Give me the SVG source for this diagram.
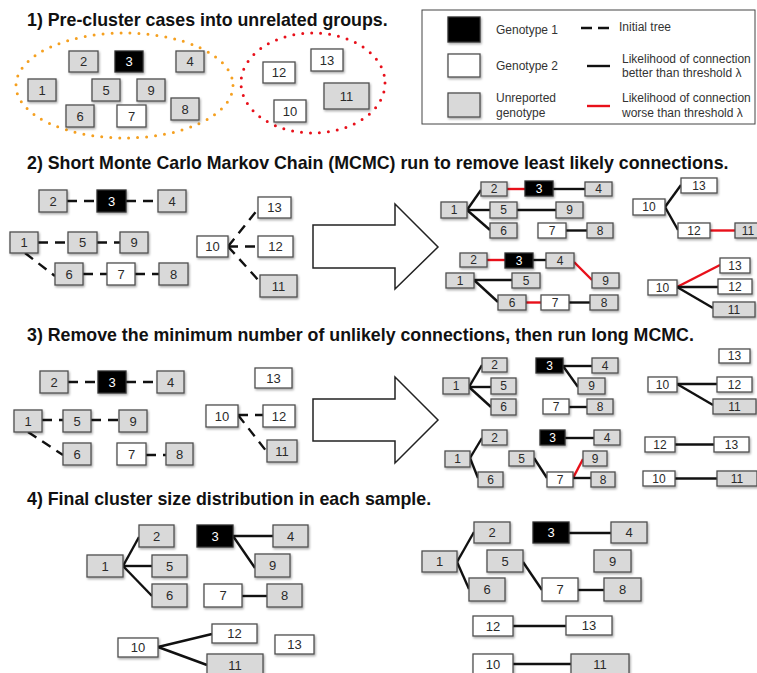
<svg xmlns="http://www.w3.org/2000/svg" width="757" height="673" viewBox="0 0 757 673">
<defs>
<filter id="sh" x="-20%" y="-20%" width="150%" height="160%">
<feDropShadow dx="1" dy="1.5" stdDeviation="1" flood-color="#000" flood-opacity="0.35"/>
</filter>
<style>
.g{fill:#d9d9d9;stroke:#505050;stroke-width:1.3;filter:url(#sh)}
.w{fill:#fff;stroke:#505050;stroke-width:1.3;filter:url(#sh)}
.b{fill:#000;stroke:#303030;stroke-width:1.3;filter:url(#sh)}
.t{font-family:"Liberation Sans",Arial,sans-serif;font-size:13px;fill:#2a2a2a;text-anchor:middle}
.s{font-size:12px}
.tw{fill:#fff}
.h{font-family:"Liberation Sans",Arial,sans-serif;font-size:17.8px;font-weight:bold;fill:#111}
.lg{font-family:"Liberation Sans",Arial,sans-serif;font-size:12px;fill:#333}
.e{stroke:#111;stroke-width:2.4;fill:none}
.r{stroke:#e8101a;stroke-width:2.4;fill:none}
.d{stroke:#111;stroke-width:2.4;fill:none;stroke-dasharray:10 7}
.ar{fill:#fff;stroke:#222;stroke-width:1.5}
</style>
</defs>
<rect width="757" height="673" fill="#fff"/>

<g id="titles">
<text class="h" x="27" y="26">1) Pre-cluster cases into unrelated groups.</text>
<text class="h" x="27" y="169">2) Short Monte Carlo Markov Chain (MCMC) run to remove least likely connections.</text>
<text class="h" x="27" y="341">3) Remove the minimum number of unlikely connections, then run long MCMC.</text>
<text class="h" x="27" y="505">4) Final cluster size distribution in each sample.</text>
</g>

<g id="legend">
<rect x="422" y="10" width="333" height="114" fill="#fff" stroke="#444" stroke-width="1"/>
<rect class="b" x="448" y="17" width="32" height="25"/>
<rect class="w" x="448" y="54" width="32" height="23"/>
<rect class="g" x="448" y="93" width="32" height="24"/>
<text class="lg" x="496" y="34">Genotype 1</text>
<text class="lg" x="496" y="70">Genotype 2</text>
<text class="lg" x="496" y="102">Unreported</text>
<text class="lg" x="496" y="117">genotype</text>
<line x1="581" y1="28" x2="610" y2="28" class="e" style="stroke-dasharray:11 6"/>
<text class="lg" x="619" y="31">Initial tree</text>
<line x1="587" y1="66" x2="610" y2="66" class="e"/>
<text class="lg" x="622" y="63">Likelihood of connection</text>
<text class="lg" x="622" y="77">better than threshold λ</text>
<line x1="587" y1="106" x2="610" y2="106" class="r"/>
<text class="lg" x="622" y="102">Likelihood of connection</text>
<text class="lg" x="622" y="117">worse than threshold λ</text>
</g>

<g id="groups">
<ellipse cx="124.5" cy="85.5" rx="108.5" ry="52.5" fill="none" stroke="#f5a020" stroke-width="3" stroke-linecap="round" stroke-dasharray="0 9"/>
<ellipse cx="313" cy="83" rx="72" ry="50" fill="none" stroke="#e8101a" stroke-width="3" stroke-linecap="round" stroke-dasharray="0 9"/>
</g>

<g id="arrows">
<polygon class="ar" points="313,225 395,225 395,204 438,247 395,289 395,268 313,268"/>
<polygon class="ar" points="313,399 395,399 395,377 438,420 395,463 395,441 313,441"/>
</g>

<g id="connectors">
<line class="d" x1="67" y1="201" x2="97" y2="201"/>
<line class="d" x1="126" y1="201" x2="158" y2="201"/>
<line class="d" x1="38" y1="242.5" x2="68" y2="242.5"/>
<line class="d" x1="97" y1="242.5" x2="120" y2="242.5"/>
<line class="d" x1="25" y1="253" x2="55" y2="276"/>
<line class="d" x1="83" y1="274" x2="107" y2="274"/>
<line class="d" x1="135" y1="274" x2="159" y2="274"/>
<line class="d" x1="228" y1="246.5" x2="258" y2="209"/>
<line class="d" x1="228" y1="246.5" x2="258" y2="246.5"/>
<line class="d" x1="228" y1="246.5" x2="260" y2="282"/>
<line class="r" x1="507" y1="189" x2="525" y2="189"/>
<line class="e" x1="553" y1="189" x2="585" y2="189"/>
<line class="e" x1="467" y1="210" x2="481" y2="190"/>
<line class="e" x1="467" y1="210" x2="490" y2="210"/>
<line class="e" x1="467" y1="210" x2="490" y2="230"/>
<line class="e" x1="517" y1="210" x2="556" y2="210"/>
<line class="e" x1="566" y1="230.5" x2="587" y2="230.5"/>
<line class="e" x1="665" y1="207" x2="681" y2="185"/>
<line class="e" x1="665" y1="207" x2="678" y2="230"/>
<line class="r" x1="710" y1="230.5" x2="735" y2="230.5"/>
<line class="r" x1="487" y1="260" x2="505" y2="260"/>
<line class="e" x1="533" y1="260" x2="546" y2="260"/>
<line class="r" x1="574" y1="262" x2="592" y2="280"/>
<line class="e" x1="474" y1="280" x2="512" y2="280"/>
<line class="e" x1="474" y1="280" x2="498" y2="302"/>
<line class="r" x1="526" y1="302.5" x2="541" y2="302.5"/>
<line class="e" x1="569" y1="302.5" x2="590" y2="302.5"/>
<line class="r" x1="677" y1="287" x2="720" y2="265"/>
<line class="e" x1="677" y1="287" x2="718" y2="287"/>
<line class="e" x1="677" y1="287" x2="713" y2="308"/>
<line class="d" x1="68" y1="382" x2="98" y2="382"/>
<line class="d" x1="126" y1="382" x2="157" y2="382"/>
<line class="d" x1="42" y1="420" x2="63" y2="420"/>
<line class="d" x1="91" y1="420" x2="119" y2="420"/>
<line class="d" x1="28" y1="432" x2="63" y2="455"/>
<line class="d" x1="146" y1="455" x2="166" y2="455"/>
<line class="d" x1="238" y1="415" x2="263" y2="415"/>
<line class="d" x1="238" y1="415" x2="267" y2="452"/>
<line class="e" x1="469" y1="387" x2="482" y2="365"/>
<line class="e" x1="469" y1="387" x2="491" y2="387"/>
<line class="e" x1="469" y1="387" x2="491" y2="407"/>
<line class="e" x1="563" y1="366" x2="592" y2="366"/>
<line class="e" x1="563" y1="366" x2="578" y2="387"/>
<line class="e" x1="569" y1="407" x2="587" y2="407"/>
<line class="e" x1="677" y1="384" x2="717" y2="384"/>
<line class="e" x1="677" y1="384" x2="713" y2="405"/>
<line class="e" x1="470" y1="458" x2="482" y2="438"/>
<line class="e" x1="470" y1="458" x2="478" y2="478"/>
<line class="e" x1="565" y1="438" x2="594" y2="438"/>
<line class="e" x1="534" y1="458" x2="547" y2="478"/>
<line class="r" x1="573" y1="478" x2="583" y2="459"/>
<line class="e" x1="573" y1="478" x2="591" y2="478"/>
<line class="e" x1="675" y1="444.5" x2="714" y2="444.5"/>
<line class="e" x1="675" y1="478.5" x2="717" y2="478.5"/>
<line class="e" x1="123" y1="566" x2="139" y2="537"/>
<line class="e" x1="123" y1="566" x2="152" y2="566"/>
<line class="e" x1="123" y1="566" x2="152" y2="596"/>
<line class="e" x1="233" y1="536" x2="273" y2="536"/>
<line class="e" x1="233" y1="536" x2="255" y2="568"/>
<line class="e" x1="242" y1="596" x2="267" y2="596"/>
<line class="e" x1="158" y1="647" x2="212" y2="634"/>
<line class="e" x1="158" y1="647" x2="207" y2="665"/>
<line class="e" x1="457" y1="562" x2="474" y2="532"/>
<line class="e" x1="457" y1="562" x2="469" y2="589"/>
<line class="e" x1="569" y1="533" x2="611" y2="533"/>
<line class="e" x1="523" y1="562" x2="542" y2="590"/>
<line class="e" x1="578" y1="590" x2="604" y2="590"/>
<line class="e" x1="513" y1="626" x2="566" y2="626"/>
<line class="e" x1="513" y1="664" x2="571" y2="664"/>
</g>

<g id="s1">
<g id="s1-2"><rect class="g" x="69" y="51" width="29" height="21"/><text class="t" x="83.5" y="66">2</text></g>
<g id="s1-3"><rect class="b" x="115" y="51" width="28" height="21"/><text class="t tw" x="129" y="66">3</text></g>
<g id="s1-4"><rect class="g" x="176" y="51" width="28" height="21"/><text class="t" x="190" y="66">4</text></g>
<g id="s1-1"><rect class="g" x="28" y="79" width="28" height="22"/><text class="t" x="42" y="94.5">1</text></g>
<g id="s1-5"><rect class="g" x="92" y="79" width="28" height="22"/><text class="t" x="106" y="94.5">5</text></g>
<g id="s1-9"><rect class="g" x="137" y="79" width="28" height="22"/><text class="t" x="151" y="94.5">9</text></g>
<g id="s1-8"><rect class="g" x="171" y="98" width="28" height="22"/><text class="t" x="185" y="113.5">8</text></g>
<g id="s1-6"><rect class="g" x="66" y="105" width="28" height="22"/><text class="t" x="80" y="120.5">6</text></g>
<g id="s1-7"><rect class="w" x="117" y="105" width="29" height="22"/><text class="t" x="131.5" y="120.5">7</text></g>
<g id="s1-12"><rect class="w" x="263" y="62" width="32" height="21"/><text class="t" x="279" y="77">12</text></g>
<g id="s1-13"><rect class="w" x="311" y="49" width="32" height="22"/><text class="t" x="327" y="64.5">13</text></g>
<g id="s1-11"><rect class="g" x="324" y="83" width="45" height="26"/><text class="t" x="346.5" y="100.5">11</text></g>
<g id="s1-10"><rect class="w" x="274" y="100" width="32" height="22"/><text class="t" x="290" y="115.5">10</text></g>
</g>

<g id="s2a">
<g id="s2a-2"><rect class="g" x="39" y="190" width="28" height="22"/><text class="t" x="53" y="205.5">2</text></g>
<g id="s2a-3"><rect class="b" x="97" y="190" width="29" height="22"/><text class="t tw" x="111.5" y="205.5">3</text></g>
<g id="s2a-4"><rect class="g" x="158" y="190" width="28" height="22"/><text class="t" x="172" y="205.5">4</text></g>
<g id="s2a-1"><rect class="g" x="10" y="232" width="28" height="21"/><text class="t" x="24" y="247">1</text></g>
<g id="s2a-5"><rect class="g" x="68" y="232" width="29" height="21"/><text class="t" x="82.5" y="247">5</text></g>
<g id="s2a-9"><rect class="g" x="120" y="232" width="28" height="21"/><text class="t" x="134" y="247">9</text></g>
<g id="s2a-6"><rect class="g" x="55" y="263" width="28" height="22"/><text class="t" x="69" y="278.5">6</text></g>
<g id="s2a-7"><rect class="w" x="107" y="263" width="28" height="22"/><text class="t" x="121" y="278.5">7</text></g>
<g id="s2a-8"><rect class="g" x="159" y="263" width="29" height="22"/><text class="t" x="173.5" y="278.5">8</text></g>
<g id="s2a-10"><rect class="w" x="197" y="236" width="31" height="21"/><text class="t" x="212.5" y="251">10</text></g>
<g id="s2a-13"><rect class="w" x="258" y="197" width="33" height="21"/><text class="t" x="274.5" y="212">13</text></g>
<g id="s2a-12"><rect class="w" x="258" y="236" width="35" height="21"/><text class="t" x="275.5" y="251">12</text></g>
<g id="s2a-11"><rect class="g" x="260" y="275" width="37" height="22"/><text class="t" x="278.5" y="290.5">11</text></g>
</g>

<g id="s2b">
<g id="s2b-2"><rect class="g" x="481" y="182" width="26" height="14"/><text class="t s" x="494" y="193.2">2</text></g>
<g id="s2b-3"><rect class="b" x="525" y="181" width="28" height="15"/><text class="t s tw" x="539" y="192.7">3</text></g>
<g id="s2b-4"><rect class="g" x="585" y="182" width="27" height="14"/><text class="t s" x="598.5" y="193.2">4</text></g>
<g id="s2b-1"><rect class="g" x="441" y="202" width="26" height="16"/><text class="t s" x="454" y="214.2">1</text></g>
<g id="s2b-5"><rect class="g" x="490" y="202" width="27" height="16"/><text class="t s" x="503.5" y="214.2">5</text></g>
<g id="s2b-9"><rect class="g" x="556" y="202" width="27" height="16"/><text class="t s" x="569.5" y="214.2">9</text></g>
<g id="s2b-6"><rect class="g" x="490" y="223" width="27" height="15"/><text class="t s" x="503.5" y="234.7">6</text></g>
<g id="s2b-7"><rect class="w" x="538" y="223" width="28" height="15"/><text class="t s" x="552" y="234.7">7</text></g>
<g id="s2b-8"><rect class="g" x="587" y="223" width="26" height="15"/><text class="t s" x="600" y="234.7">8</text></g>
<g id="s2b-10"><rect class="w" x="633" y="199" width="32" height="16"/><text class="t s" x="649" y="211.2">10</text></g>
<g id="s2b-13"><rect class="w" x="681" y="178" width="36" height="15"/><text class="t s" x="699" y="189.7">13</text></g>
<g id="s2b-12"><rect class="w" x="678" y="223" width="32" height="15"/><text class="t s" x="694" y="234.7">12</text></g>
<g id="s2b-11"><rect class="g" x="735" y="223" width="36" height="15"/><text class="t s" x="748" y="234.7">11</text></g>
</g>

<g id="s2c">
<g id="s2c-2"><rect class="g" x="460" y="253" width="27" height="14"/><text class="t s" x="473.5" y="264.2">2</text></g>
<g id="s2c-3"><rect class="b" x="505" y="253" width="28" height="15"/><text class="t s tw" x="519" y="264.7">3</text></g>
<g id="s2c-4"><rect class="g" x="546" y="253" width="28" height="15"/><text class="t s" x="560" y="264.7">4</text></g>
<g id="s2c-9"><rect class="g" x="592" y="273" width="27" height="15"/><text class="t s" x="605.5" y="284.7">9</text></g>
<g id="s2c-1"><rect class="g" x="446" y="273" width="28" height="15"/><text class="t s" x="460" y="284.7">1</text></g>
<g id="s2c-5"><rect class="g" x="512" y="273" width="28" height="15"/><text class="t s" x="526" y="284.7">5</text></g>
<g id="s2c-6"><rect class="g" x="498" y="295" width="28" height="15"/><text class="t s" x="512" y="306.7">6</text></g>
<g id="s2c-7"><rect class="w" x="541" y="295" width="28" height="15"/><text class="t s" x="555" y="306.7">7</text></g>
<g id="s2c-8"><rect class="g" x="590" y="295" width="28" height="15"/><text class="t s" x="604" y="306.7">8</text></g>
<g id="s2c-10"><rect class="w" x="648" y="280" width="29" height="15"/><text class="t s" x="662.5" y="291.7">10</text></g>
<g id="s2c-13"><rect class="w" x="720" y="258" width="30" height="15"/><text class="t s" x="735" y="269.7">13</text></g>
<g id="s2c-12"><rect class="w" x="718" y="279" width="34" height="15"/><text class="t s" x="735" y="290.7">12</text></g>
<g id="s2c-11"><rect class="g" x="713" y="302" width="42" height="15"/><text class="t s" x="734" y="313.7">11</text></g>
</g>

<g id="s3a">
<g id="s3a-2"><rect class="g" x="40" y="371" width="28" height="22"/><text class="t" x="54" y="386.5">2</text></g>
<g id="s3a-3"><rect class="b" x="98" y="371" width="28" height="22"/><text class="t tw" x="112" y="386.5">3</text></g>
<g id="s3a-4"><rect class="g" x="157" y="371" width="27" height="22"/><text class="t" x="170.5" y="386.5">4</text></g>
<g id="s3a-1"><rect class="g" x="14" y="410" width="28" height="22"/><text class="t" x="28" y="425.5">1</text></g>
<g id="s3a-5"><rect class="g" x="63" y="410" width="28" height="22"/><text class="t" x="77" y="425.5">5</text></g>
<g id="s3a-9"><rect class="g" x="119" y="410" width="28" height="22"/><text class="t" x="133" y="425.5">9</text></g>
<g id="s3a-6"><rect class="g" x="63" y="443" width="28" height="22"/><text class="t" x="77" y="458.5">6</text></g>
<g id="s3a-7"><rect class="w" x="117" y="443" width="29" height="22"/><text class="t" x="131.5" y="458.5">7</text></g>
<g id="s3a-8"><rect class="g" x="166" y="443" width="27" height="22"/><text class="t" x="179.5" y="458.5">8</text></g>
<g id="s3a-13"><rect class="w" x="255" y="368" width="37" height="20"/><text class="t" x="273.5" y="382.5">13</text></g>
<g id="s3a-10"><rect class="w" x="206" y="405" width="32" height="22"/><text class="t" x="222" y="420.5">10</text></g>
<g id="s3a-12"><rect class="w" x="263" y="405" width="32" height="22"/><text class="t" x="279" y="420.5">12</text></g>
<g id="s3a-11"><rect class="g" x="267" y="440" width="30" height="22"/><text class="t" x="282" y="455.5">11</text></g>
</g>

<g id="s3b">
<g id="s3b-2"><rect class="g" x="482" y="358" width="25" height="14"/><text class="t s" x="494.5" y="369.2">2</text></g>
<g id="s3b-1"><rect class="g" x="443" y="378" width="26" height="16"/><text class="t s" x="456" y="390.2">1</text></g>
<g id="s3b-5"><rect class="g" x="491" y="378" width="25" height="16"/><text class="t s" x="503.5" y="390.2">5</text></g>
<g id="s3b-6"><rect class="g" x="491" y="399" width="25" height="16"/><text class="t s" x="503.5" y="411.2">6</text></g>
<g id="s3b-3"><rect class="b" x="536" y="358" width="27" height="15"/><text class="t s tw" x="549.5" y="369.7">3</text></g>
<g id="s3b-4"><rect class="g" x="592" y="358" width="26" height="15"/><text class="t s" x="605" y="369.7">4</text></g>
<g id="s3b-9"><rect class="g" x="578" y="378" width="27" height="16"/><text class="t s" x="591.5" y="390.2">9</text></g>
<g id="s3b-7"><rect class="w" x="543" y="399" width="26" height="15"/><text class="t s" x="556" y="410.7">7</text></g>
<g id="s3b-8"><rect class="g" x="587" y="399" width="26" height="15"/><text class="t s" x="600" y="410.7">8</text></g>
<g id="s3b-13"><rect class="w" x="719" y="349" width="31" height="14"/><text class="t s" x="734.5" y="360.2">13</text></g>
<g id="s3b-10"><rect class="w" x="648" y="377" width="29" height="15"/><text class="t s" x="662.5" y="388.7">10</text></g>
<g id="s3b-12"><rect class="w" x="717" y="377" width="35" height="15"/><text class="t s" x="734.5" y="388.7">12</text></g>
<g id="s3b-11"><rect class="g" x="713" y="399" width="43" height="15"/><text class="t s" x="734.5" y="410.7">11</text></g>
</g>

<g id="s3c">
<g id="s3c-2"><rect class="g" x="482" y="430" width="25" height="15"/><text class="t s" x="494.5" y="441.7">2</text></g>
<g id="s3c-1"><rect class="g" x="445" y="451" width="25" height="16"/><text class="t s" x="457.5" y="463.2">1</text></g>
<g id="s3c-6"><rect class="g" x="478" y="472" width="25" height="15"/><text class="t s" x="490.5" y="483.7">6</text></g>
<g id="s3c-3"><rect class="b" x="540" y="430" width="25" height="15"/><text class="t s tw" x="552.5" y="441.7">3</text></g>
<g id="s3c-4"><rect class="g" x="594" y="430" width="26" height="15"/><text class="t s" x="607" y="441.7">4</text></g>
<g id="s3c-5"><rect class="g" x="509" y="451" width="25" height="15"/><text class="t s" x="521.5" y="462.7">5</text></g>
<g id="s3c-7"><rect class="w" x="547" y="472" width="26" height="15"/><text class="t s" x="560" y="483.7">7</text></g>
<g id="s3c-9"><rect class="g" x="583" y="451" width="24" height="15"/><text class="t s" x="595" y="462.7">9</text></g>
<g id="s3c-8"><rect class="g" x="591" y="472" width="24" height="15"/><text class="t s" x="603" y="483.7">8</text></g>
<g id="s3c-12"><rect class="w" x="645" y="437" width="30" height="15"/><text class="t s" x="660" y="448.7">12</text></g>
<g id="s3c-13"><rect class="w" x="714" y="437" width="35" height="15"/><text class="t s" x="731.5" y="448.7">13</text></g>
<g id="s3c-10"><rect class="w" x="643" y="471" width="32" height="15"/><text class="t s" x="659" y="482.7">10</text></g>
<g id="s3c-11"><rect class="g" x="717" y="471" width="40" height="15"/><text class="t s" x="737" y="482.7">11</text></g>
</g>

<g id="s4a">
<g id="s4a-2"><rect class="g" x="139" y="525" width="35" height="22"/><text class="t" x="156.5" y="540.5">2</text></g>
<g id="s4a-1"><rect class="g" x="87" y="555" width="36" height="22"/><text class="t" x="105" y="570.5">1</text></g>
<g id="s4a-5"><rect class="g" x="152" y="555" width="35" height="22"/><text class="t" x="169.5" y="570.5">5</text></g>
<g id="s4a-6"><rect class="g" x="152" y="584" width="35" height="23"/><text class="t" x="169.5" y="600">6</text></g>
<g id="s4a-3"><rect class="b" x="197" y="525" width="36" height="22"/><text class="t tw" x="215" y="540.5">3</text></g>
<g id="s4a-4"><rect class="g" x="273" y="525" width="35" height="22"/><text class="t" x="290.5" y="540.5">4</text></g>
<g id="s4a-9"><rect class="g" x="255" y="554" width="35" height="23"/><text class="t" x="272.5" y="570">9</text></g>
<g id="s4a-7"><rect class="w" x="204" y="584" width="38" height="23"/><text class="t" x="223" y="600">7</text></g>
<g id="s4a-8"><rect class="g" x="267" y="584" width="35" height="23"/><text class="t" x="284.5" y="600">8</text></g>
<g id="s4a-10"><rect class="w" x="118" y="638" width="40" height="19"/><text class="t" x="138" y="652">10</text></g>
<g id="s4a-12"><rect class="w" x="212" y="624" width="45" height="19"/><text class="t" x="234.5" y="638">12</text></g>
<g id="s4a-11"><rect class="g" x="207" y="654" width="56" height="24"/><text class="t" x="235" y="669.5">11</text></g>
<g id="s4a-13"><rect class="w" x="275" y="635" width="39" height="19"/><text class="t" x="294.5" y="649">13</text></g>
</g>

<g id="s4b">
<g id="s4b-2"><rect class="g" x="474" y="522" width="36" height="21"/><text class="t" x="492" y="537">2</text></g>
<g id="s4b-1"><rect class="g" x="422" y="551" width="35" height="21"/><text class="t" x="439.5" y="566">1</text></g>
<g id="s4b-6"><rect class="g" x="469" y="578" width="36" height="23"/><text class="t" x="487" y="594">6</text></g>
<g id="s4b-3"><rect class="b" x="533" y="522" width="36" height="21"/><text class="t tw" x="551" y="537">3</text></g>
<g id="s4b-4"><rect class="g" x="611" y="522" width="36" height="21"/><text class="t" x="629" y="537">4</text></g>
<g id="s4b-5"><rect class="g" x="487" y="550" width="36" height="22"/><text class="t" x="505" y="565.5">5</text></g>
<g id="s4b-9"><rect class="g" x="594" y="550" width="37" height="22"/><text class="t" x="612.5" y="565.5">9</text></g>
<g id="s4b-7"><rect class="w" x="542" y="578" width="36" height="23"/><text class="t" x="560" y="594">7</text></g>
<g id="s4b-8"><rect class="g" x="604" y="578" width="37" height="23"/><text class="t" x="622.5" y="594">8</text></g>
<g id="s4b-12"><rect class="w" x="473" y="616" width="40" height="20"/><text class="t" x="493" y="630.5">12</text></g>
<g id="s4b-13"><rect class="w" x="566" y="616" width="46" height="19"/><text class="t" x="589" y="630">13</text></g>
<g id="s4b-10"><rect class="w" x="473" y="654" width="40" height="24"/><text class="t" x="493" y="669">10</text></g>
<g id="s4b-11"><rect class="g" x="571" y="654" width="58" height="24"/><text class="t" x="600" y="669">11</text></g>
</g>
</svg>
